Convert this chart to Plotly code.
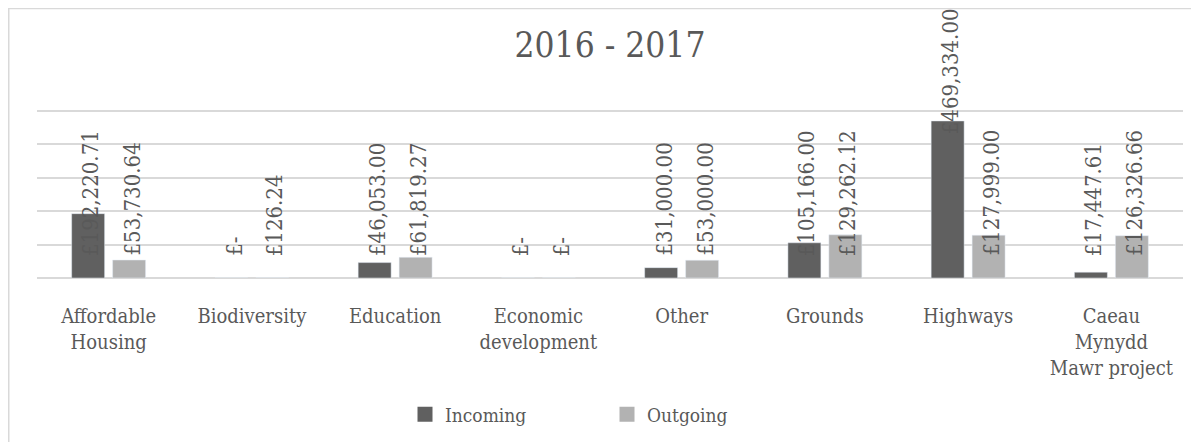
import plotly.graph_objects as go

categories = ["Affordable<br>Housing", "Biodiversity", "Education", "Economic<br>development",
              "Other", "Grounds", "Highways", "Caeau<br>Mynydd<br>Mawr project"]
incoming = [192220.71, 0, 46053.00, 0, 31000.00, 105166.00, 469334.00, 17447.61]
outgoing = [53730.64, 126.24, 61819.27, 0, 53000.00, 129262.12, 127999.00, 126326.66]
series_names = ["Incoming", "Outgoing"]
title_text = "2016 - 2017"

FONT = "DejaVu Serif Condensed, DejaVu Serif, serif"
TXT = "#595959"
C_IN = "#606060"
C_OUT = "#b2b2b2"
GRID = "#d9d9d9"

# page has an 8px body margin, so the figure is laid out 8px smaller
W, H = 1191, 434
L, R = 29, 1175            # plot area left/right (figure px)
Y0, Y500 = 270.5, 103.0    # pixel of value 0 and of 500k
YMAX = 505000
px_per = (Y0 - Y500) / 500000
TOP = Y0 - YMAX * px_per
PH = Y0 - TOP
PW = R - L


def pxx(x):
    return (x - L) / PW


def pxy(y):
    return (Y0 - y) / PH


def fmt(v):
    return "£-" if v == 0 else f"£{v:,.2f}"


fig = go.Figure()
fig.add_trace(go.Bar(x=categories, y=incoming, name=series_names[0], marker_color=C_IN,
                     showlegend=False, legendgroup="a"))
fig.add_trace(go.Bar(x=categories, y=outgoing, name=series_names[1], marker_color=C_OUT,
                     showlegend=False, legendgroup="b"))
# legend entries with larger square swatches
for nm, col, g in ((series_names[0], C_IN, "a"), (series_names[1], C_OUT, "b")):
    fig.add_trace(go.Scatter(x=[None], y=[None], mode="markers", name=nm, legendgroup=g,
                             marker=dict(symbol="square", size=15, color=col)))

label_base = 60000
annotations = []
for series, shift in ((incoming, -20.5), (outgoing, 20.5)):
    for cat, v in zip(categories, series):
        base = label_base
        if v > 400000:
            base = v - 47000
        annotations.append(dict(
            x=cat, y=base, xref="x", yref="y", text=fmt(v), showarrow=False,
            textangle=-90, yanchor="bottom", xanchor="center", xshift=shift + 3,
            font=dict(family=FONT, size=22, color=TXT)))

fig.update_layout(
    width=W, height=H,
    margin=dict(l=L, r=W - R, t=TOP, b=H - Y0, autoexpand=False),
    paper_bgcolor="white", plot_bgcolor="white",
    barmode="group", bargap=0.428, bargroupgap=0.195,
    title=dict(text=title_text, x=0.5, xref="paper", y=1 - 37 / H, yanchor="middle",
               font=dict(family=FONT, size=35, color=TXT)),
    font=dict(family=FONT, color=TXT),
    showlegend=True,
    legend=dict(orientation="h", x=pxx(397), xanchor="left", y=pxy(407), yanchor="middle",
                font=dict(family=FONT, size=19, color=TXT), bgcolor="rgba(0,0,0,0)",
                itemwidth=30, entrywidth=157, tracegroupgap=0),
    annotations=annotations,
    shapes=[
        dict(type="line", xref="paper", yref="paper", x0=pxx(0), x1=pxx(W + 5),
             y0=pxy(0.75), y1=pxy(0.75), line=dict(color=GRID, width=1.5)),
        dict(type="line", xref="paper", yref="paper", x0=pxx(0.75), x1=pxx(0.75),
             y0=pxy(0), y1=pxy(H + 5), line=dict(color=GRID, width=1.5)),
    ],
)
fig.update_yaxes(range=[0, YMAX], tickvals=[100000, 200000, 300000, 400000, 500000],
                 showgrid=True, gridcolor=GRID, gridwidth=1.5,
                 zeroline=True, zerolinecolor=GRID, zerolinewidth=1.5,
                 showticklabels=False, fixedrange=True)
fig.update_xaxes(showgrid=False, showline=False, tickfont=dict(family=FONT, size=20, color=TXT),
                 ticks="", ticklabelstandoff=24)

fig.write_html("out.html")
